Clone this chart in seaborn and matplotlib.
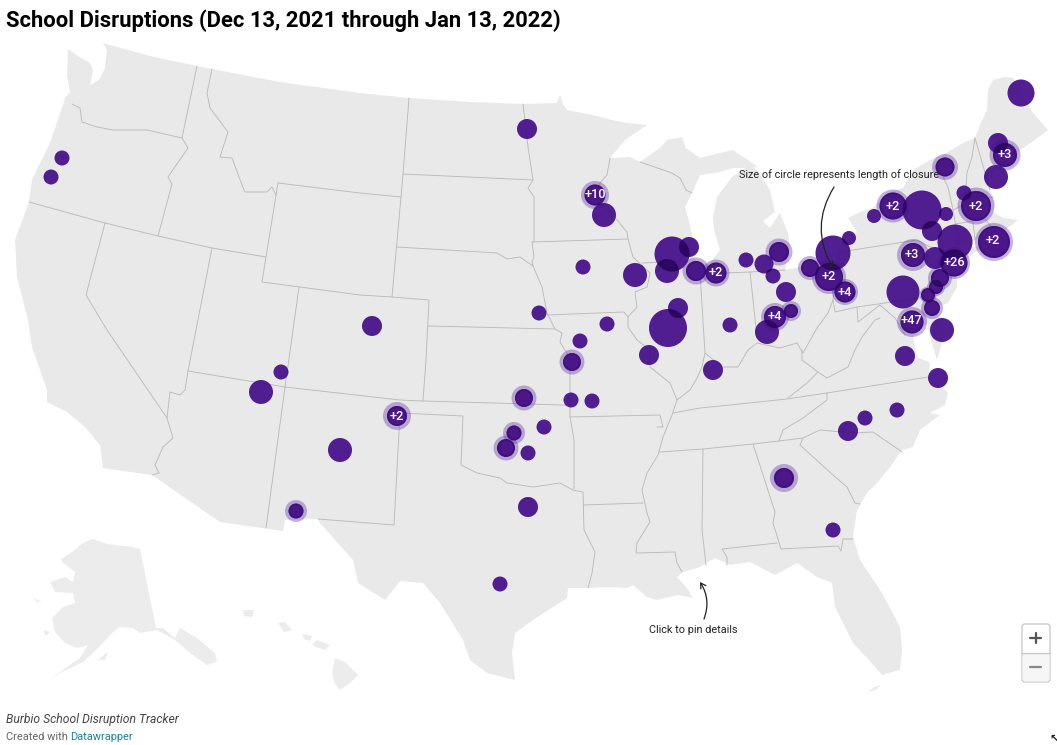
import matplotlib
matplotlib.use("Agg")
import matplotlib.pyplot as plt
from matplotlib.patches import Circle, FancyBboxPatch
import numpy as np
import pandas as pd
import seaborn as sns

# Everything in its own pixel coordinates
land = [(68,49),(78,56),(90,63),(93,70),(90,85),(99,80),(105,68),(107,50),(103,43),(150,56),(197,66),(212,69),(280,82),
        (360,93),(409,98),(470,102),(523,104),(557,103),(560,95),(563,104),(567,110),(593,115),(612,120),(627,123),
        (647,125),(625,140),(610,158),(630,157),(640,162),(660,148),(667,140),(682,137),(686,148),(700,158),(720,153),
        (733,150),(745,158),(758,167),(745,168),(733,168),(720,172),(700,175),(692,193),(685,207),(690,225),(693,240),
        (688,250),(695,260),(702,265),(710,263),(720,250),(714,230),(713,217),(717,197),(732,177),(750,165),(757,170),
        (770,190),(775,212),(763,221),(770,228),(780,213),(788,233),(790,247),(785,270),(800,267),(820,258),(842,247),
        (857,232),(848,218),(860,212),(873,208),(887,193),(903,188),(913,170),(930,160),(943,155),(963,143),(975,138),
        (980,125),(987,110),(988,90),(993,80),(1005,77),(1013,78),(1022,95),(1033,113),(1048,130),(1035,140),(1020,150),
        (1005,160),(995,172),(990,190),(995,202),(993,212),(1003,218),(1018,220),(1005,230),(993,229),(975,240),(957,250),
        (980,246),(992,243),(975,252),(957,267),(957,287),(948,303),(937,307),(940,323),(945,333),(937,360),(930,337),
        (927,323),(913,337),(917,357),(930,363),(928,383),(943,388),(948,393),(945,405),(930,413),(940,415),(920,430),
        (913,447),(902,450),(890,467),(878,482),(867,493),(857,510),(853,537),(860,560),(882,593),(900,627),(902,650),
        (900,670),(882,675),(867,658),(853,643),(840,617),(835,607),(832,583),(817,577),(797,563),(775,575),(750,562),
        (730,565),(715,558),(700,567),(683,572),(677,577),(687,588),(693,598),(677,595),(657,600),(647,597),(633,585),
        (627,588),(607,587),(588,588),(568,588),(567,598),(533,620),(515,633),(512,653),(515,680),(487,673),(470,660),
        (463,640),(440,603),(423,583),(400,581),(385,600),(358,583),(353,560),(320,523),(318,519),(285,520),(283,531),
        (220,522),(152,475),(103,468),(100,445),(85,427),(67,412),(47,402),(47,390),(32,347),(28,320),(17,277),(15,240),
        (29,202),(32,180),(50,143),(63,105),(65,98),(70,92),(67,75)]
alaska = [(61,559),(72,552),(83,543),(93,539),(107,544),(133,547),(140,549),(156,628),(163,628),(175,638),(180,628),
          (197,638),(215,653),(217,662),(207,665),(190,653),(175,640),(157,630),(140,633),(133,628),(120,627),(112,633),
          (98,648),(83,662),(60,673),(47,682),(60,672),(80,658),(88,645),(77,648),(65,643),(55,632),(52,618),(63,607),
          (75,603),(73,593),(55,592),(50,582),(65,577),(73,582),(75,572),(62,562)]
islands = [[(98,660),(108,652),(105,660)],
           [(43,630),(50,632),(46,636)],
           [(32,597),(42,602),(37,602)],
           [(335,658),(345,662),(358,675),(350,683),(340,690),(334,682),(332,673)],
           [(317,640),(330,645),(325,650),(316,647),(312,645)],
           [(302,634),(312,636),(310,641),(304,639)],
           [(278,623),(285,622),(292,630),(284,632)],
           [(243,610),(254,610),(252,617),(244,616)],
           [(868,692),(874,687),(881,685),(876,690)]]
state_lines = [
    [(197,66),(182,138)],
    [(72,104),(80,108),(82,122),(97,127),(113,130),(147,130),(182,138),(188,148),(168,177),(172,184),(158,236)],
    [(212,69),(207,93),(210,108),(228,132),(220,157),(232,158),(242,185),(245,192),(267,192),(272,187),(276,195)],
    [(29,202),(105,223),(158,236),(212,248),(266,257)],
    [(278,183),(266,257),(262,282),(360,295),(392,297),(429,300),(426,360),(423,401)],
    [(278,183),(360,193),(401,197)],
    [(409,98),(403,174),(401,197),(392,297)],
    [(212,248),(196,330),(188,371),(285,387),(400,400),(423,401),(563,405),(570,405)],
    [(299,287),(293,330),(285,387),(266,528)],
    [(105,223),(86,295),(107,330),(167,418),(173,438),(163,447),(155,465),(159,473),(152,475)],
    [(167,418),(170,392),(180,395),(185,390),(188,371)],
    [(400,413),(463,416),(461,465),(477,473),(500,478),(507,483),(533,487),(560,483),(573,490),(583,492),(584,530),
     (595,552),(592,573),(588,588)],
    [(400,413),(394,525),(318,519)],
    [(428,326),(555,329),(562,333),(560,342),(568,355),(570,360),(570,417),(574,440),(574,489)],
    [(397,247),(497,253),(507,259),(520,257),(533,266),(542,287),(547,313),(555,329)],
    [(532,242),(628,239),(633,257),(650,273),(647,287),(635,292),(637,307),(628,317),(624,312),(547,315)],
    [(532,242),(534,257),(532,262),(533,266)],
    [(403,174),(533,180),(528,188),(534,197),(534,242)],
    [(523,104),(528,147),(533,180)],
    [(610,158),(607,175),(600,183),(597,200),(617,220),(627,232),(628,239)],
    [(640,162),(672,173),(680,178),(686,190),(692,193)],
    [(642,263),(688,261)],
    [(700,273),(705,353)],
    [(700,274),(750,272),(757,337)],
    [(750,272),(785,270)],
    [(628,317),(628,327),(637,340),(650,350),(650,367),(670,383),(677,400),(673,412),(672,415),(663,437),(658,455),
     (647,473),(642,490),(647,513),(650,522),(637,543),(636,553),(675,552),(677,563),(682,572)],
    [(570,417),(660,415),(663,427),(657,427)],
    [(583,505),(643,503)],
    [(677,400),(690,390),(697,378),(702,367),(705,353),(722,367),(738,367),(748,350),(757,343),(780,348),(797,343),
     (803,353),(817,328),(828,313),(833,300),(835,312),(857,307),(858,322),(880,305),(895,318),(905,335)],
    [(833,300),(840,252),(917,240),(945,255),(933,277),(927,297),(857,307)],
    [(673,413),(700,408),(730,405),(787,399),(827,393),(928,377)],
    [(660,452),(703,449),(753,444),(779,441),(803,438)],
    [(779,441),(783,430),(803,418),(827,400),(827,393)],
    [(800,445),(803,438),(820,430),(853,433),(873,432),(902,452)],
    [(800,445),(833,475),(847,487),(855,503),(860,504)],
    [(753,444),(775,512),(773,523),(781,549),(838,546),(841,551),(843,539),(853,539)],
    [(777,543),(722,549),(727,557),(727,565)],
    [(703,449),(702,530),(706,565)],
    [(788,398),(807,383),(818,372),(802,360),(802,350)],
    [(818,372),(827,378),(848,367),(855,350),(862,337),(875,320),(880,318)],
    [(943,177),(948,187),(953,210),(958,240),(957,250)],
    [(975,138),(972,157),(967,173),(965,200)],
    [(975,138),(990,190)],
    [(953,210),(967,203),(993,197)],
    [(955,224),(985,219),(993,229)],
    [(973,222),(975,240)],
]

bubble_x = [1021,998,1005,996,945,964,976,994,893,922,946,874,932,955,913,935,954,940,936,928,932,903,912,942,905,
            833,849,810,829,845,786,779,764,773,746,716,791,775,767,730,713,527,595,604,583,635,672,689,667,696,
            678,668,607,539,580,649,372,572,524,571,592,544,514,506,528,528,500,397,281,261,340,296,62,51,938,897,
            865,848,784,833]
bubble_y = [93,143,155,177,167,193,206,242,206,210,214,216,231,242,255,258,263,278,287,295,308,292,322,330,356,
            253,238,268,277,292,292,252,264,276,260,273,311,317,332,325,370,129,195,215,267,275,254,247,271,271,
            308,328,324,313,341,355,326,362,398,400,401,427,433,448,453,507,584,416,372,392,450,511,158,177,378,410,
            418,431,478,530]
bubble_r = [13.5,10,12,12,9.5,7.5,15,16,13.5,19.5,7,7,10,17.5,12,11,13.5,9,7,7,8,16.5,11.5,12,10,
            17.5,7,9,14,10.5,10,10,9.5,7.5,7.5,10.5,7,11,12,7.5,10,10,10.5,12,7.5,12,17.5,10,12,10,
            10,19,7.5,7.5,7.5,10,10,9,9,7.5,7.5,7.5,7.5,9,7.5,10,7.5,10,7.5,12,12,7.5,7.5,7.5,10,7.5,
            7.5,10,10,7.5]
# 0 means a single school, otherwise the width of the pale ring around a group
ring_w = [0,0,3.5,0,3.5,0,3.5,3,3,0,0,0,0,0,4,0,2.5,3,2,1.5,3,0,3.5,0,0,
          0,0,3,3,2.5,0,3.5,0,0,0,3,3,3,0,0,0,0,3.5,0,0,0,0,0,0,3.5,
          0,0,0,0,0,0,0,3.5,3.5,0,0,0,3.5,3.5,0,0,0,4,0,0,0,3.5,0,0,0,0,
          0,0,4,0]
label_names = ["+3","+2","+2","+2","+3","+26","+47","+2","+4","+2","+4","+10","+2"]
label_x = [1005,976,993,893,912,954,911,829,845,716,775,595,397]
label_y = [155,206,241,206,255,263,321,277,292,273,317,195,416]

title = "School Disruptions (Dec 13, 2021 through Jan 13, 2022)"
source = "Burbio School Disruption Tracker"
note_size = "Size of circle represents length of closure"
note_pin = "Click to pin details"

df = pd.DataFrame({"x": bubble_x, "y": bubble_y, "r": bubble_r, "ring": ring_w})


def area(radius):
    # pixel radius to scatter size in points^2 at dpi 100
    return (2 * np.asarray(radius) * 0.72) ** 2


sns.set_theme(style="white")
plt.rcParams["font.family"] = ["Roboto", "DejaVu Sans"]

fig = plt.figure(figsize=(10.57, 7.45), dpi=100)
ax = fig.add_axes([0, 0, 1, 1])

# the map
ax.fill(*zip(*land), color="#e9e9e9", lw=0, zorder=1)
ax.fill(*zip(*alaska), color="#ececec", lw=0, zorder=1)
for isle in islands:
    ax.fill(*zip(*isle), color="#ececec", lw=0, zorder=1)
for line in state_lines:
    ax.plot(*zip(*line), color="#bababa", lw=0.65, zorder=2, solid_joinstyle="round")

# the closures
rings = df[df.ring > 0]
sns.scatterplot(data=rings, x="x", y="y", s=area(rings.r + rings.ring), color="#5a2a9e", alpha=0.36,
                linewidth=0, legend=False, ax=ax, zorder=3)
sns.scatterplot(data=df, x="x", y="y", s=area(df.r), color="#430c89", alpha=0.92,
                linewidth=0, legend=False, ax=ax, zorder=4)
# groups have a slightly darker band round a normal centre
sns.scatterplot(data=rings, x="x", y="y", s=area(rings.r), color="#2f0668", alpha=0.4,
                linewidth=0, legend=False, ax=ax, zorder=5)
sns.scatterplot(data=rings, x="x", y="y", s=area(rings.r - 2), color="#4f1a8c", alpha=0.75,
                linewidth=0, legend=False, ax=ax, zorder=5.2)

# overlaps go darker
for i, a in df.iterrows():
    for j, b in df.iloc[i + 1:].iterrows():
        if np.hypot(a.x - b.x, a.y - b.y) < a.r + b.r:
            patch = Circle((a.x, a.y), a.r, fc="#27075a", ec="none", alpha=0.8, zorder=5.5)
            ax.add_patch(patch)
            patch.set_clip_path(Circle((b.x, b.y), b.r, transform=ax.transData))

for name, tx, ty in zip(label_names, label_x, label_y):
    ax.text(tx, ty, name, color="white", fontsize=9.2, fontweight=500, ha="center", va="center", zorder=6)

ax.set_xlim(0, 1057)
ax.set_ylim(745, 0)
ax.set_xlabel("")
ax.set_ylabel("")
ax.axis("off")

# notes
ax.text(739, 175, note_size, fontsize=7.85, color="#222222", va="center", zorder=7)
ax.annotate("", xy=(833, 268), xytext=(834, 187), zorder=7,
            arrowprops=dict(arrowstyle="->,head_width=0.18,head_length=0.3", color="#222222", lw=0.9,
                            connectionstyle="arc3,rad=0.3", shrinkA=0, shrinkB=0))
ax.text(649, 630, note_pin, fontsize=7.85, color="#222222", va="center", zorder=7)
ax.annotate("", xy=(700, 582), xytext=(704, 619), zorder=7,
            arrowprops=dict(arrowstyle="->,head_width=0.18,head_length=0.3", color="#222222", lw=0.9,
                            connectionstyle="arc3,rad=0.25", shrinkA=0, shrinkB=0))

# title and footer
ax.text(6, 21, title, fontsize=15.8, fontweight="bold", color="#000000", va="center")
ax.text(6, 719, source, fontsize=8.7, style="italic", color="#444444", va="center")
ax.text(6, 737, "Created with", fontsize=7.9, color="#666666", va="center")
ax.text(70, 737, "Datawrapper", fontsize=7.9, color="#1d81a2", va="center")

# zoom buttons
ax.add_patch(FancyBboxPatch((1022, 624), 28, 58, boxstyle="round,pad=0,rounding_size=3", fc="#ffffff",
                            ec="#c4c4c4", lw=0.9, zorder=7))
ax.add_patch(FancyBboxPatch((1022.5, 653), 27, 28.5, boxstyle="round,pad=0,rounding_size=3", fc="#f6f6f6",
                            ec="none", zorder=7))
ax.plot([1022, 1050], [653, 653], color="#c4c4c4", lw=0.9, zorder=8)
ax.plot([1030, 1041], [638, 638], color="#555555", lw=1.6, zorder=8)
ax.plot([1035.5, 1035.5], [633, 643], color="#555555", lw=1.6, zorder=8)
ax.plot([1030, 1041], [667, 667], color="#888888", lw=1.6, zorder=8)
ax.text(1054, 739, "\u2196", fontsize=8, fontweight="bold", family="DejaVu Sans", color="#222222",
        ha="center", va="center", zorder=8)

fig.savefig("out.png", dpi=100)
